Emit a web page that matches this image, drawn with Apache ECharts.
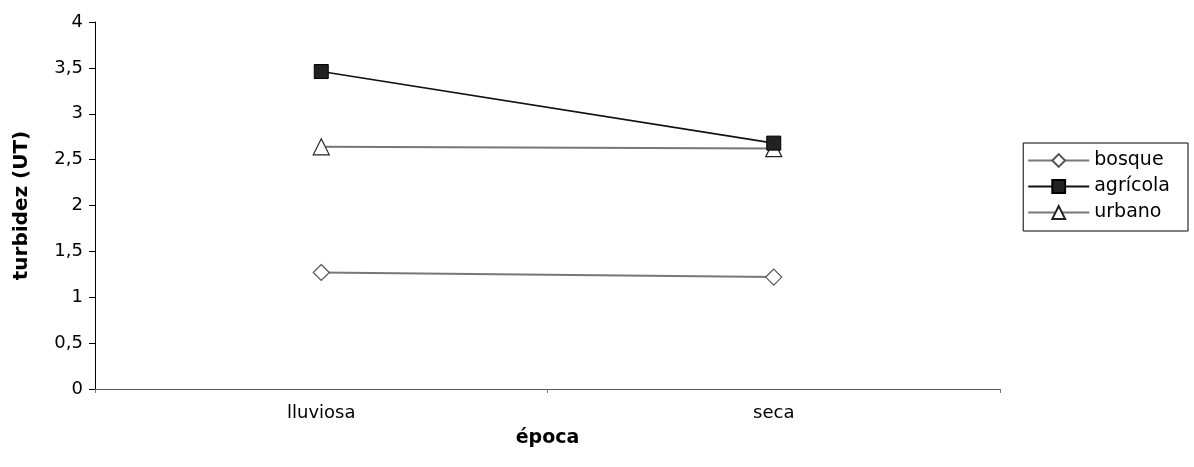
<!DOCTYPE html>
<html>
<head>
<meta charset="utf-8">
<script src="https://cdn.jsdelivr.net/npm/echarts@6/dist/echarts.min.js"></script>
<style>
  html, body { margin: 0; padding: 0; background: #fff; }
  #chart { width: 1194px; height: 467px; }
</style>
</head>
<body>
<div id="chart"></div>
<script>
const categories = ["lluviosa", "seca"];
const bosque = [1.27, 1.22];
const agricola = [3.46, 2.68];
const urbano = [2.64, 2.62];
const yTicks = [0, 0.5, 1, 1.5, 2, 2.5, 3, 3.5, 4];

const chart = echarts.init(document.getElementById("chart"));

const font = "DejaVu Sans, Liberation Sans, sans-serif";

const option = {
  backgroundColor: "#fff",
  animation: false,
  textStyle: { fontFamily: font },
  grid: { left: 95, right: 194, top: 22, bottom: 78 },
  legend: {
    orient: "vertical",
    right: 6,
    top: 143,
    padding: [8, 18, 9, 4],
    itemGap: 7,
    itemWidth: 61,
    itemHeight: 16,
    borderColor: "#000",
    borderWidth: 1,
    textStyle: { fontSize: 19, color: "#000", fontFamily: font },
    data: ["bosque", "agrícola", "urbano"]
  },
  xAxis: {
    type: "category",
    data: categories,
    boundaryGap: true,
    name: "época",
    nameLocation: "middle",
    nameGap: 40,
    nameTextStyle: { fontSize: 19, fontWeight: "bold", color: "#000", fontFamily: font },
    axisLine: { lineStyle: { color: "#555", width: 1 } },
    axisTick: { show: true, length: 4, lineStyle: { color: "#777" } },
    axisLabel: { fontSize: 18, color: "#000", margin: 15, fontFamily: font }
  },
  yAxis: {
    type: "value",
    min: 0,
    max: 4,
    interval: 0.5,
    name: "turbidez (UT)",
    nameLocation: "middle",
    nameGap: 63,
    nameTextStyle: { fontSize: 20, fontWeight: "bold", color: "#000", fontFamily: font },
    axisLine: { show: true, lineStyle: { color: "#000", width: 1 } },
    axisTick: { show: true, inside: false, length: 6, lineStyle: { color: "#000" } },
    splitLine: { show: false },
    axisLabel: {
      fontSize: 18,
      color: "#000",
      margin: 12,
      fontFamily: font,
      formatter: v => yTicks.includes(v) ? String(v).replace(".", ",") : ""
    }
  },
  series: [
    {
      name: "bosque",
      type: "line",
      data: bosque,
      symbol: "diamond",
      symbolSize: 16,
      itemStyle: { color: "#fff", borderColor: "#555", borderWidth: 1.2 },
      lineStyle: { color: "#777", width: 2 },
      z: 3
    },
    {
      name: "agrícola",
      type: "line",
      data: agricola,
      symbol: "rect",
      symbolSize: 14,
      itemStyle: { color: "#222", borderColor: "#000", borderWidth: 1 },
      lineStyle: { color: "#111", width: 1.6 },
      z: 4
    },
    {
      name: "urbano",
      type: "line",
      data: urbano,
      symbol: "triangle",
      symbolSize: 16,
      itemStyle: { color: "#fff", borderColor: "#222", borderWidth: 1.2 },
      lineStyle: { color: "#777", width: 2 },
      z: 3
    }
  ]
};

chart.setOption(option);
</script>
</body>
</html>
